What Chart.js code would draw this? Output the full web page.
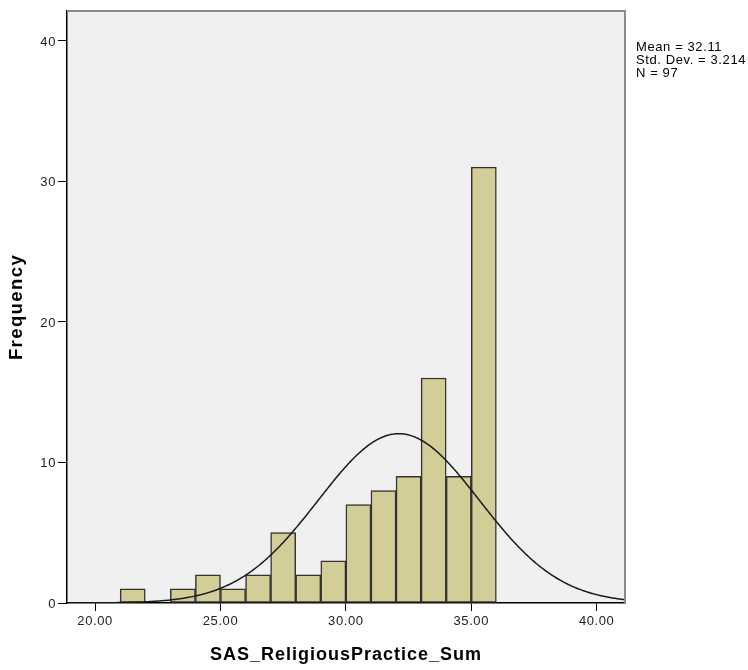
<!DOCTYPE html>
<html>
<head>
<meta charset="utf-8">
<title>SAS_ReligiousPractice_Sum</title>
<script src="https://cdn.jsdelivr.net/npm/chart.js@4"></script>
<style>
  html, body { margin: 0; padding: 0; background: #ffffff; }
  #wrap { width: 748px; height: 670px; }
</style>
</head>
<body>
<div id="wrap"><canvas id="hist" width="748" height="670"></canvas></div>
<script>
// Histogram bins (lower edge of each 1-point bin) and their counts
const binLower = [21, 22, 23, 24, 25, 26, 27, 28, 29, 30, 31, 32, 33, 34, 35];
const frequencies = [1, 0, 1, 2, 1, 2, 5, 2, 3, 7, 8, 9, 16, 9, 31];
const binWidth = 1;

// Summary statistics shown beside the plot
const MEAN = 32.11;
const SD = 3.214;
const N = 97;
const statsLines = ['Mean = 32.11', 'Std. Dev. = 3.214', 'N = 97'];

// Axis ticks and ranges
const xTicks = [20, 25, 30, 35, 40];
const yTicks = [0, 10, 20, 30, 40];
const xRange = [18.88, 41.13];
const yRange = [0, 42.1];

const FONT = "'Liberation Sans', Arial, sans-serif";

const barData = binLower.map((lo, i) => ({ x: lo + binWidth / 2, y: frequencies[i] }));

// Fitted normal curve, scaled to counts per bin
const curveData = [];
for (let x = xRange[0]; x <= xRange[1] + 1e-9; x += 0.05) {
  const z = (x - MEAN) / SD;
  curveData.push({ x: x, y: N * binWidth * Math.exp(-0.5 * z * z) / (SD * Math.sqrt(2 * Math.PI)) });
}

// Slightly tracked text: titles wider than tick labels
function trackTitles(chart) {
  Object.values(chart.scales).forEach(s => {
    if (s._trackPatched) return;
    const orig = s.drawTitle;
    s.drawTitle = function () {
      const c = this.ctx;
      const prev = c.letterSpacing;
      c.letterSpacing = s.axis === 'y' ? '1.4px' : '1px';
      orig.apply(this, arguments);
      c.letterSpacing = prev;
    };
    s._trackPatched = true;
  });
}

const frame = {
  id: 'frame',
  afterLayout(chart) { trackTitles(chart); },
  beforeDraw(chart) {
    const { ctx, chartArea: a } = chart;
    ctx.letterSpacing = '0.6px';
    ctx.save();
    ctx.fillStyle = '#f0f0f0';
    ctx.fillRect(a.left, a.top, a.right - a.left, a.bottom - a.top);
    ctx.restore();
  },
  afterDraw(chart) {
    const { ctx, chartArea: a } = chart;
    ctx.save();
    ctx.strokeStyle = '#8a8a8a';
    ctx.lineWidth = 2;
    ctx.beginPath();
    ctx.moveTo(a.left, a.top);
    ctx.lineTo(a.right, a.top);
    ctx.lineTo(a.right, a.bottom);
    ctx.stroke();
    // statistics text beside the plot
    ctx.letterSpacing = '0.6px';
    ctx.fillStyle = '#000';
    ctx.font = '13px ' + FONT;
    ctx.textAlign = 'left';
    ctx.textBaseline = 'alphabetic';
    statsLines.forEach((t, i) => ctx.fillText(t, 636, 51 + i * 13));
    ctx.restore();
  }
};

new Chart(document.getElementById('hist'), {
  type: 'bar',
  data: {
    datasets: [
      {
        type: 'line',
        data: curveData,
        borderColor: '#1a1a1a',
        borderWidth: 1.5,
        pointRadius: 0,
        tension: 0,
        fill: false,
        order: 0
      },
      {
        type: 'bar',
        data: barData,
        backgroundColor: 'rgb(211,206,151)',
        borderColor: '#333333',
        borderWidth: 1.5,
        borderSkipped: false,
        barPercentage: 1,
        categoryPercentage: 1,
        order: 1
      }
    ]
  },
  options: {
    responsive: false,
    animation: false,
    events: [],
    layout: { padding: { left: 0, right: 123, top: 11, bottom: 0 } },
    plugins: { legend: { display: false }, tooltip: { enabled: false } },
    scales: {
      x: {
        type: 'linear',
        min: xRange[0],
        max: xRange[1],
        offset: false,
        grid: { offset: false, drawOnChartArea: false, drawTicks: true, tickLength: 8, color: '#000', lineWidth: 1 },
        border: { display: true, color: '#000', width: 1.5 },
        afterBuildTicks: s => { s.ticks = xTicks.map(v => ({ value: v })); },
        afterFit: s => { s.height = 67; },
        ticks: {
          color: '#222',
          padding: 3,
          maxRotation: 0,
          font: { family: FONT, size: 13 },
          callback: v => Number(v).toFixed(2)
        },
        title: {
          display: true,
          text: 'SAS_ReligiousPractice_Sum',
          color: '#000',
          font: { family: FONT, size: 18, weight: 'bold' },
          padding: { top: 0, bottom: 4 }
        }
      },
      y: {
        type: 'linear',
        min: yRange[0],
        max: yRange[1],
        grid: { drawOnChartArea: false, drawTicks: true, tickLength: 9, color: '#000', lineWidth: 1 },
        border: { display: true, color: '#000', width: 1.5 },
        afterBuildTicks: s => { s.ticks = yTicks.map(v => ({ value: v })); },
        afterFit: s => { s.width = 67; },
        ticks: {
          color: '#222',
          padding: 2,
          labelOffset: 1.5,
          font: { family: FONT, size: 13 }
        },
        title: {
          display: true,
          text: 'Frequency',
          color: '#000',
          font: { family: FONT, size: 18.5, weight: 'bold' },
          padding: { top: 6, bottom: 0 }
        }
      }
    }
  },
  plugins: [frame]
});
</script>
</body>
</html>
